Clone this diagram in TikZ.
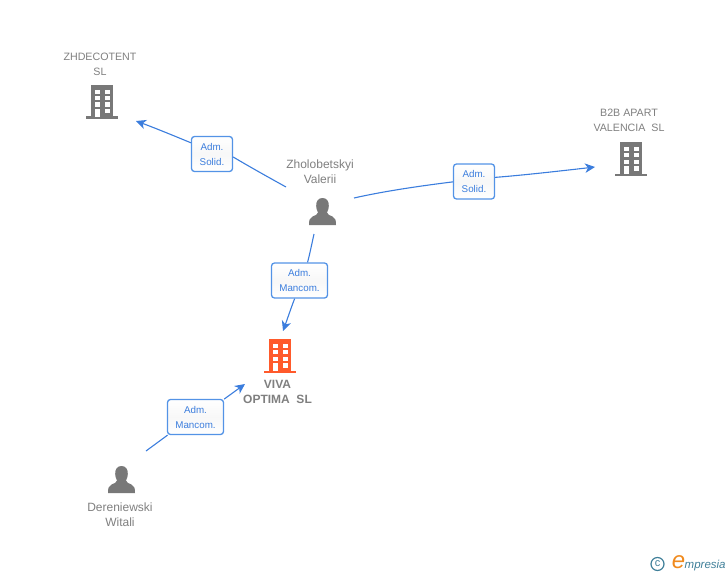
\documentclass[tikz,border=0pt]{standalone}
\usepackage{fontspec}
\setmainfont{Liberation Sans}
\usetikzlibrary{arrows.meta}
\definecolor{linkblue}{HTML}{3B7DDD}
\definecolor{boxblue}{HTML}{5393E6}
\definecolor{labelgrey}{HTML}{7F7F7F}
\definecolor{icongrey}{HTML}{787878}
\definecolor{mainorange}{HTML}{FF5A2B}
\definecolor{logoteal}{HTML}{3F7F99}
\definecolor{logoorange}{HTML}{F08A1D}
\tikzset{
  entity/.style={text=labelgrey,align=center,font=\fontsize{10.67}{15}\selectfont},
  bigentity/.style={entity,font=\fontsize{12}{15}\selectfont},
  role/.style={draw=boxblue,line width=1.3pt,rounded corners=3pt,top color=white,bottom color=white,middle color=black!3,
    text=linkblue,align=center,inner sep=0pt,font=\fontsize{9.8}{15}\selectfont},
  link/.style={draw=linkblue,line width=1.1pt},
  linkto/.style={link,-{Stealth[length=10pt,width=9.5pt,inset=3pt]}},
  building/.pic={
    \fill[pic actions] (-11,-17) rectangle (11,15);
    \fill[pic actions] (-16,14.5) rectangle (16,17);
    \foreach \row in {-12.2,-6.2,0.5} {
      \fill[white] (-7.2,\row) rectangle (-1.8,\row+4.4);
      \fill[white] (2.8,\row) rectangle (8.2,\row+4.4);
    }
    \fill[white] (-7.2,6.8) rectangle (-1.8,15);
    \fill[white] (2.8,6.8) rectangle (8.2,11.5);
  },
  person/.pic={
    \fill[pic actions] (0,-13.5) .. controls (-4.5,-13.5) and (-6.5,-10) .. (-6.3,-5.5) .. controls (-6.2,-2) and (-5,-0.5) .. (-4.5,1) .. controls (-5,3) and (-7,4) .. (-10,5) .. controls (-13,6) and (-13.5,9) .. (-13.5,13.5)
      -- (13.5,13.5) .. controls (13.5,9) and (13,6) .. (10,5) .. controls (7,4) and (5,3) .. (4.5,1) .. controls (5,-0.5) and (6.2,-2) .. (6.3,-5.5) .. controls (6.5,-10) and (4.5,-13.5) .. (0,-13.5) -- cycle;
  }
}
\begin{document}
\begin{tikzpicture}[x=1pt,y=-1pt]
\useasboundingbox (0,0) rectangle (728,575);
% icons
\pic[fill=icongrey] at (102,102) {building};
\pic[fill=icongrey] at (631,159) {building};
\pic[fill=mainorange] at (280,356) {building};
\pic[fill=icongrey] at (322.5,211.5) {person};
\pic[fill=icongrey] at (121.5,479.5) {person};
% names
\node[entity] (zhdecotent) at (100,64.5) {ZHDECOTENT\\SL};
\node[entity] (btob) at (629,120.5) {B2B APART\\VALENCIA\ \ SL};
\node[bigentity] (zholobetskyi) at (320,172) {Zholobetskyi\\Valerii};
\node[bigentity,font=\fontsize{12}{15}\selectfont\bfseries] (viva) at (277.5,392) {VIVA\\OPTIMA\ \ SL};
\node[bigentity] (dereniewski) at (120,514.5) {Dereniewski\\Witali};
% roles
\node[role,minimum width=41pt,minimum height=35pt] (admsolidA) at (212,154) {Adm.\\Solid.};
\node[role,minimum width=41pt,minimum height=35pt] (admsolidB) at (474,181.5) {Adm.\\Solid.};
\node[role,minimum width=56pt,minimum height=35pt] (admmancomA) at (299.5,280.5) {Adm.\\Mancom.};
\node[role,minimum width=56pt,minimum height=35pt] (admmancomB) at (195.5,417) {Adm.\\Mancom.};
% free ends
\coordinate (fromA) at (286,187);
\coordinate (toA) at (136,121);
\coordinate (fromB) at (354,198);
\coordinate (toB) at (595,167);
\coordinate (fromC) at (314,234);
\coordinate (toC) at (283,331);
\coordinate (fromD) at (146,451);
\coordinate (toD) at (245,384);
% connectors
\draw[link] (fromA) .. controls (268,177) and (250,167) .. (admsolidA.-8);
\draw[linkto] (admsolidA.152) .. controls (172,135) and (155,128) .. (toA);
\draw[link] (fromB) .. controls (385,191) and (420,186) .. (admsolidB.181);
\draw[linkto] (admsolidB.11.6) .. controls (525,175) and (560,171) .. (toB);
\draw[link] (fromC) .. controls (312,243) and (310,253) .. (admmancomA.66);
\draw[linkto] (admmancomA.255.6) .. controls (291,308) and (287,320) .. (toC);
\draw[link] (fromD) -- (admmancomB.213.5);
\draw[linkto] (admmancomB.32) -- (toD);
% logo
\node[circle,draw=logoteal,line width=1.2pt,minimum size=13pt,inner sep=0pt,text=logoteal,font=\fontsize{11}{11}\selectfont] (copyrightmark) at (657.5,564) {c};
\node[text=logoorange,inner sep=0pt,font=\itshape\fontsize{24}{24}\selectfont] (logoe) at (678.5,562.5) {e};
\node[anchor=base west,text=logoteal,inner sep=0pt,font=\itshape\fontsize{11.5}{12}\selectfont] (logotext) at (684.5,568) {mpresia};
\end{tikzpicture}
\end{document}
